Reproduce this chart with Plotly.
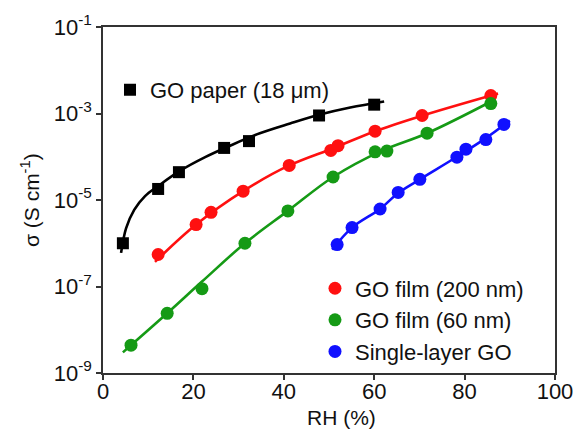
import plotly.graph_objects as go

# ---- data ----
paper_rh = [4.4, 12.2, 16.8, 26.8, 32.3, 47.8, 60.0]
paper_sigma = [1.0e-6, 1.8e-5, 4.4e-5, 1.6e-4, 2.3e-4, 9.0e-4, 1.6e-3]
paper_fit_rh = [4.0, 5.1, 6.9, 9.3, 12.2, 17.0, 22.6, 28.1, 34.7, 41.4, 48.0, 54.7, 62.2]
paper_fit_sigma = [6.0e-7, 2.2e-6, 5.9e-6, 1.23e-5, 2.1e-5, 4.7e-5, 9.8e-5, 1.8e-4, 3.5e-4, 5.9e-4, 9.5e-4, 1.38e-3, 1.9e-3]

f200_rh = [12.2, 20.6, 23.9, 31.0, 41.2, 50.4, 52.0, 60.2, 70.6, 85.8]
f200_sigma = [5.5e-7, 2.7e-6, 5.2e-6, 1.6e-5, 6.3e-5, 1.4e-4, 1.8e-4, 3.9e-4, 9.0e-4, 2.6e-3]
f200_fit_rh = [11.5, 20.6, 31.0, 41.2, 51.1, 60.2, 70.6, 87.4]
f200_fit_sigma = [3.7e-7, 2.7e-6, 1.6e-5, 6.3e-5, 1.6e-4, 3.9e-4, 8.9e-4, 2.9e-3]

f60_rh = [6.2, 14.2, 21.9, 31.4, 40.9, 50.9, 60.2, 62.8, 71.7, 85.8]
f60_sigma = [4.4e-9, 2.4e-8, 8.9e-8, 1.0e-6, 5.6e-6, 3.4e-5, 1.3e-4, 1.35e-4, 3.5e-4, 1.7e-3]
f60_fit_rh = [4.4, 14.2, 21.9, 31.4, 40.9, 50.9, 61.5, 71.7, 86.3]
f60_fit_sigma = [3.0e-9, 2.4e-8, 1.3e-7, 1.0e-6, 5.6e-6, 3.4e-5, 1.35e-4, 3.5e-4, 2.0e-3]

single_rh = [51.8, 55.1, 61.3, 65.3, 70.1, 78.3, 80.3, 84.7, 88.7]
single_sigma = [9.3e-7, 2.3e-6, 6.2e-6, 1.5e-5, 3.0e-5, 9.8e-5, 1.5e-4, 2.5e-4, 5.6e-4]
single_fit_rh = [50.7, 55.1, 61.3, 65.3, 70.1, 78.3, 84.7, 90.0]
single_fit_sigma = [7.1e-7, 2.3e-6, 6.2e-6, 1.45e-5, 3.0e-5, 1.0e-4, 2.7e-4, 6.9e-4]

x_ticks = [0, 20, 40, 60, 80, 100]
y_tickvals = [1e-9, 1e-7, 1e-5, 1e-3, 1e-1]
y_ticktext = ["10<sup>-9</sup>", "10<sup>-7</sup>", "10<sup>-5</sup>", "10<sup>-3</sup>", "10<sup>-1</sup>"]
x_title = "RH (%)"
y_title = "\u03c3 (S cm<sup>-1</sup>)"

BLACK = "#000000"
RED = "#ff1010"
GREEN = "#159a15"
BLUE = "#1010ff"
FONT = "Arial, Liberation Sans, sans-serif"

fig = go.Figure()

# fit curves
for fx, fy, c in [(paper_fit_rh, paper_fit_sigma, BLACK),
                  (f200_fit_rh, f200_fit_sigma, RED),
                  (f60_fit_rh, f60_fit_sigma, GREEN),
                  (single_fit_rh, single_fit_sigma, BLUE)]:
    fig.add_trace(go.Scatter(x=fx, y=fy, mode="lines", line=dict(color=c, width=2.6, shape="spline"),
                             showlegend=False, hoverinfo="skip"))

# data markers
fig.add_trace(go.Scatter(x=paper_rh, y=paper_sigma, mode="markers", name="GO paper (18 \u03bcm)",
                         marker=dict(symbol="square", size=12, color=BLACK), legend="legend"))
fig.add_trace(go.Scatter(x=f200_rh, y=f200_sigma, mode="markers", name="GO film (200 nm)",
                         marker=dict(symbol="circle", size=13, color=RED), legend="legend2"))
fig.add_trace(go.Scatter(x=f60_rh, y=f60_sigma, mode="markers", name="GO film (60 nm)",
                         marker=dict(symbol="circle", size=13, color=GREEN), legend="legend2"))
fig.add_trace(go.Scatter(x=single_rh, y=single_sigma, mode="markers", name="Single-layer GO",
                         marker=dict(symbol="circle", size=13, color=BLUE), legend="legend2"))

fig.update_layout(
    width=587, height=430,
    margin=dict(l=103, r=32, t=27, b=57),
    paper_bgcolor="white", plot_bgcolor="white",
    font=dict(family=FONT, size=22, color="#111"),
    legend=dict(x=0.0155, xanchor="left", y=0.879, yanchor="top", bgcolor="rgba(0,0,0,0)",
                font=dict(size=22), itemwidth=30),
    legend2=dict(x=0.469, xanchor="left", y=0.305, yanchor="top", bgcolor="rgba(0,0,0,0)",
                 font=dict(size=22), itemwidth=30, tracegroupgap=0),
    xaxis=dict(range=[0, 100], tickvals=x_ticks, ticks="outside", ticklen=5, tickwidth=1.5,
               tickcolor="#333", showline=True, linecolor="#333", linewidth=1.5, mirror=True,
               showgrid=False, zeroline=False, tickfont=dict(size=22), automargin=False,
               ticklabelstandoff=-7),
    yaxis=dict(type="log", range=[-9, -1], tickvals=y_tickvals, ticktext=y_ticktext,
               ticks="outside", ticklen=5, tickwidth=1.5, tickcolor="#333",
               showline=True, linecolor="#333", linewidth=1.5, mirror=True,
               showgrid=False, zeroline=False, tickfont=dict(size=22), automargin=False),
    annotations=[
        dict(text=x_title, xref="paper", yref="paper", x=0.527, y=-0.1297, borderpad=0,
             xanchor="center", yanchor="middle", showarrow=False, font=dict(size=21)),
        dict(text=y_title, xref="paper", yref="paper", x=-0.1615, y=0.5, textangle=-90,
             xanchor="center", yanchor="middle", showarrow=False, font=dict(size=21)),
    ],
)

# the browser's default 8px body margin would shift the 587x430 figure; remove it
fig.write_html("out.html", config={"displayModeBar": False},
               post_script="document.body.style.margin='0';")
